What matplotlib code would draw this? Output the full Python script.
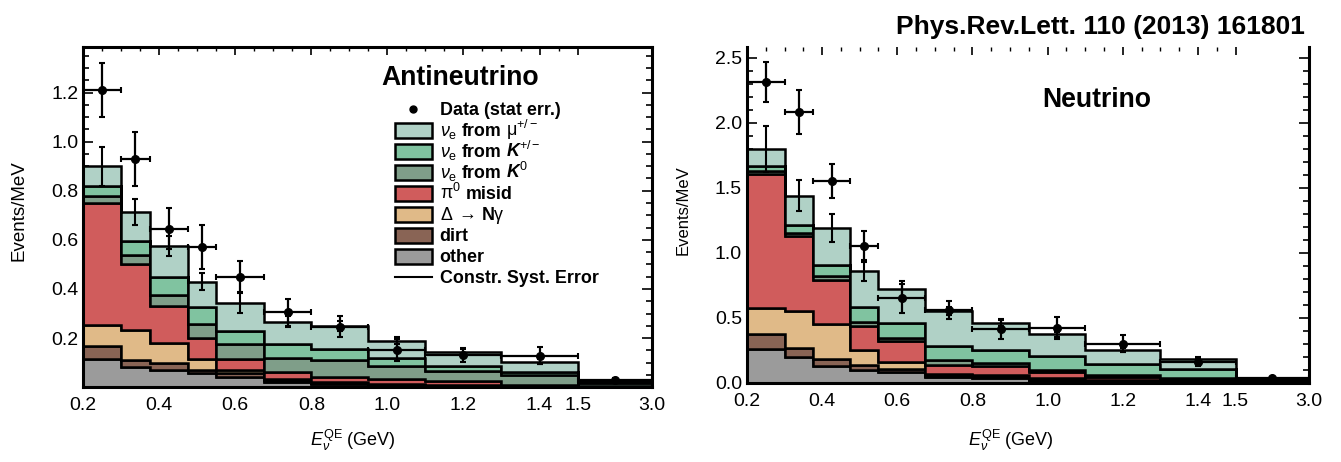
import numpy as np
import matplotlib
matplotlib.use("Agg")
import matplotlib.pyplot as plt
from matplotlib.patches import Rectangle
from matplotlib.ticker import FixedLocator

plt.rcParams['font.family'] = ['Liberation Sans', 'DejaVu Sans']
plt.rcParams['mathtext.fontset'] = 'custom'
plt.rcParams['mathtext.rm'] = 'Liberation Sans'
plt.rcParams['mathtext.it'] = 'Liberation Sans:italic'
plt.rcParams['mathtext.bf'] = 'Liberation Sans:bold'
plt.rcParams['mathtext.sf'] = 'Liberation Sans:italic:bold'

# E_nu^QE bin edges (GeV); the last bin is squeezed on the axis
edges = np.array([0.2, 0.3, 0.375, 0.475, 0.55, 0.675, 0.8, 0.95, 1.1, 1.3, 1.5, 3.0])
SQUEEZE = 0.13

# Antineutrino mode, events/MeV per background component
anti_other = [0.114, 0.083, 0.069, 0.056, 0.042, 0.020, 0.012, 0.008, 0.006, 0.003, 0.001]
anti_dirt  = [0.055, 0.029, 0.031, 0.014, 0.014, 0.008, 0.004, 0.003, 0.002, 0.001, 0.001]
anti_delta = [0.086, 0.120, 0.081, 0.043, 0.013, 0.007, 0.004, 0.003, 0.002, 0.002, 0.000]
anti_pi0   = [0.495, 0.270, 0.151, 0.086, 0.044, 0.028, 0.022, 0.021, 0.014, 0.004, 0.002]
anti_k0    = [0.027, 0.037, 0.043, 0.058, 0.061, 0.057, 0.068, 0.052, 0.041, 0.040, 0.011]
anti_kpm   = [0.041, 0.058, 0.075, 0.071, 0.055, 0.056, 0.045, 0.033, 0.020, 0.013, 0.004]
anti_mu    = [0.082, 0.116, 0.125, 0.102, 0.113, 0.091, 0.093, 0.070, 0.057, 0.040, 0.007]
anti_syst  = [0.080, 0.053, 0.040, 0.035, 0.040, 0.023, 0.020, 0.015, 0.012, 0.010, 0.003]
anti_data  = [1.210, 0.930, 0.645, 0.570, 0.450, 0.305, 0.246, 0.153, 0.130, 0.128, 0.030]
anti_stat  = [0.110, 0.110, 0.083, 0.089, 0.062, 0.055, 0.042, 0.045, 0.028, 0.035, 0.007]

# Neutrino mode
nu_other = [0.262, 0.197, 0.128, 0.100, 0.082, 0.045, 0.035, 0.020, 0.012, 0.008, 0.002]
nu_dirt  = [0.114, 0.075, 0.059, 0.042, 0.028, 0.010, 0.010, 0.006, 0.004, 0.003, 0.001]
nu_delta = [0.197, 0.282, 0.264, 0.113, 0.052, 0.017, 0.020, 0.009, 0.006, 0.004, 0.001]
nu_pi0   = [1.032, 0.577, 0.339, 0.180, 0.158, 0.064, 0.063, 0.052, 0.023, 0.012, 0.004]
nu_k0    = [0.026, 0.025, 0.033, 0.035, 0.026, 0.044, 0.024, 0.013, 0.019, 0.010, 0.004]
nu_kpm   = [0.033, 0.059, 0.085, 0.117, 0.112, 0.105, 0.100, 0.108, 0.083, 0.073, 0.013]
nu_mu    = [0.133, 0.223, 0.282, 0.275, 0.262, 0.269, 0.210, 0.166, 0.105, 0.072, 0.011]
nu_syst  = [0.180, 0.120, 0.110, 0.080, 0.060, 0.030, 0.025, 0.020, 0.015, 0.010, 0.003]
nu_data  = [2.310, 2.080, 1.550, 1.050, 0.650, 0.560, 0.415, 0.425, 0.303, 0.165, 0.040]
nu_stat  = [0.155, 0.170, 0.130, 0.120, 0.110, 0.070, 0.075, 0.085, 0.068, 0.036, 0.008]

# key labels, split into pieces so sub/superscripts stay in their own boxes
labels = [[r"$\nu_\mathrm{e}$", "from", r"$\mathrm{\mu}^{+/-}$"],
          [r"$\nu_\mathrm{e}$", "from", r"$\mathsf{K}^{+/-}$"],
          [r"$\nu_\mathrm{e}$", "from", r"$\mathsf{K}^{0}$"],
          [r"$\mathrm{\pi}^{0}$", "misid"],
          [r"$\mathrm{\Delta}$", "→", r"N$\mathrm{\gamma}$"],
          ["dirt"],
          ["other"]]
colors = ['#b0d1c6', '#80c3a0', '#7f9e89', '#d05c5c', '#e0ba88', '#896455', '#9b9b9b']


def fwd(x):
    x = np.asarray(x, dtype=float)
    return np.where(x <= 1.5, x, 1.5 + (x - 1.5) * SQUEEZE)


def inv(y):
    y = np.asarray(y, dtype=float)
    return np.where(y <= 1.5, y, 1.5 + (y - 1.5) / SQUEEZE)


centers = 0.5 * (edges[:-1] + edges[1:])
half_lo = centers - edges[:-1]
half_hi = edges[1:] - centers


def draw_panel(ax, parts, data, stat, syst):
    # stack from the bottom: other, dirt, Delta, pi0, K0, K+-, mu
    bottom = np.zeros(len(centers))
    for vals, col in zip(parts[::-1], colors[::-1]):
        top = bottom + np.array(vals)
        ax.stairs(top, edges, baseline=bottom, fill=True, facecolor=col,
                  edgecolor='black', linewidth=1.8, zorder=2)
        bottom = top
    ax.errorbar(centers, bottom, yerr=syst, fmt='none', ecolor='black',
                elinewidth=1.5, capsize=2.5, capthick=1.5, zorder=3)
    ax.errorbar(centers, data, yerr=stat, xerr=[half_lo, half_hi], fmt='o',
                color='black', ms=5.5, elinewidth=1.6, capsize=2.5,
                capthick=1.5, zorder=4)

    ax.set_xscale('function', functions=(fwd, inv))
    ax.set_xlim(0.2, 3.0)
    ax.xaxis.set_major_locator(FixedLocator([0.2, 0.4, 0.6, 0.8, 1.0, 1.2, 1.4, 1.5, 3.0]))
    ax.set_xticklabels(['0.2', '0.4', '0.6', '0.8', '1.0', '1.2', '1.4', '1.5', '3.0'])
    ax.xaxis.set_minor_locator(FixedLocator(np.arange(0.25, 1.5, 0.05)))
    ax.tick_params(axis='x', which='both', direction='in', top=True, bottom=False,
                   labelsize=14, pad=7)
    ax.tick_params(axis='x', which='major', length=6, width=1.2)
    ax.tick_params(axis='x', which='minor', length=3, width=1.0)
    ax.tick_params(axis='y', which='both', direction='in', left=True, right=True,
                   labelsize=14, width=1.2)
    ax.tick_params(axis='y', which='major', length=7)
    ax.tick_params(axis='y', which='minor', length=4)
    for s in ax.spines.values():
        s.set_linewidth(2.2)
    ax.set_xlabel(r"$E_\nu^\mathrm{QE}$ (GeV)", fontsize=13)


def key_row(ax, x, y, pieces, style):
    # first piece anchored in axes coords, the rest chained to the right
    prev = ax.text(x, y, pieces[0], transform=ax.transAxes, va='baseline',
                   ha='left', **style)
    for p in pieces[1:]:
        prev = ax.annotate(p, xy=(1, y), xycoords=(prev, ax.transAxes),
                           xytext=(3.5, 0), textcoords='offset points',
                           va='baseline', ha='left', **style)


def draw_key(ax):
    # hand-placed key so every row gets the same spacing
    x0, w, h = 0.548, 0.065, 0.044
    tx = 0.627
    ys = 0.8176 - 0.0618 * np.arange(9)
    base = -0.016  # baseline sits a little below the box centre
    style = dict(fontsize=12.9, fontweight='bold')
    ax.plot([x0 + w / 2], [ys[0]], 'o', color='black', ms=5, transform=ax.transAxes)
    key_row(ax, tx, ys[0] + base, ["Data (stat err.)"], style)
    for y, pieces, col in zip(ys[1:8], labels, colors):
        ax.add_patch(Rectangle((x0, y - h / 2), w, h, transform=ax.transAxes,
                               facecolor=col, edgecolor='black', linewidth=1.8))
        key_row(ax, tx, y + base, pieces, style)
    ax.plot([x0, x0 + w], [ys[8], ys[8]], color='black', lw=1.5, transform=ax.transAxes)
    key_row(ax, tx, ys[8] + base, ["Constr. Syst. Error"], style)


fig = plt.figure(figsize=(13.41, 4.62), dpi=100)
ax1 = fig.add_axes([0.062, 0.162, 0.424, 0.736])
ax2 = fig.add_axes([0.557, 0.171, 0.419, 0.727])

anti_parts = [anti_mu, anti_kpm, anti_k0, anti_pi0, anti_delta, anti_dirt, anti_other]
nu_parts = [nu_mu, nu_kpm, nu_k0, nu_pi0, nu_delta, nu_dirt, nu_other]

draw_panel(ax1, anti_parts, anti_data, anti_stat, anti_syst)
ax1.set_ylim(0, 1.385)
ax1.yaxis.set_major_locator(FixedLocator([0.2, 0.4, 0.6, 0.8, 1.0, 1.2]))
ax1.yaxis.set_minor_locator(FixedLocator(np.arange(0.05, 1.38, 0.05)))
ax1.set_ylabel("Events/MeV", fontsize=13.5)
ax1.yaxis.set_label_coords(-0.098, 0.518)
ax1.xaxis.set_label_coords(0.475, -0.12)
ax1.text(0.525, 0.909, "Antineutrino", transform=ax1.transAxes, fontsize=19.2,
         fontweight='bold', va='center', ha='left')
draw_key(ax1)

draw_panel(ax2, nu_parts, nu_data, nu_stat, nu_syst)
ax2.set_ylim(0, 2.58)
ax2.yaxis.set_major_locator(FixedLocator([0.0, 0.5, 1.0, 1.5, 2.0, 2.5]))
ax2.yaxis.set_minor_locator(FixedLocator(np.arange(0.1, 2.58, 0.1)))
ax2.set_yticklabels(['0.0', '0.5', '1.0', '1.5', '2.0', '2.5'])
ax2.spines['top'].set_visible(False)
ax2.set_ylabel("Events/MeV", fontsize=12)
ax2.yaxis.set_label_coords(-0.101, 0.515)
ax2.xaxis.set_label_coords(0.47, -0.135)
ax2.text(0.525, 0.842, "Neutrino", transform=ax2.transAxes, fontsize=19.2,
         fontweight='bold', va='center', ha='left')

fig.text(0.973, 0.942, "Phys.Rev.Lett. 110 (2013) 161801", fontsize=19,
         fontweight='bold', ha='right', va='center')

fig.savefig("out.png", dpi=100)
